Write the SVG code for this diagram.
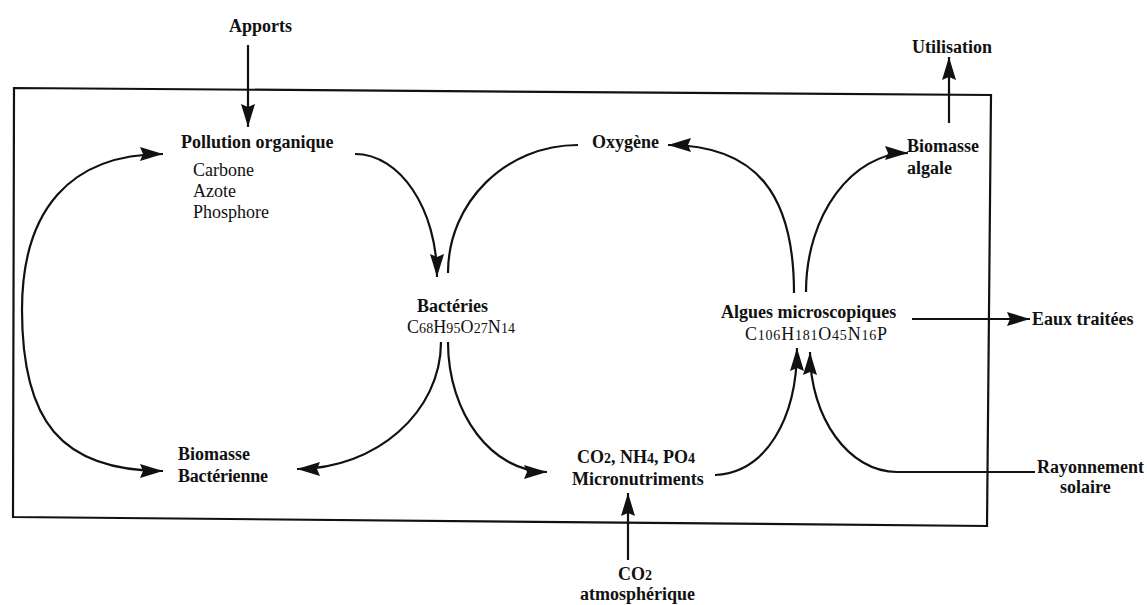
<svg xmlns="http://www.w3.org/2000/svg" width="1147" height="605" viewBox="0 0 1147 605">
<style>
text{font-family:"Liberation Serif","Times New Roman",serif;fill:#111;}
.b{font-weight:bold;font-size:18px;}
.r{font-size:18px;}
.s{font-size:14px;}
.ln{fill:none;stroke:#111;stroke-width:2.2;}
.ar{fill:none;stroke:#111;stroke-width:2.2;marker-end:url(#ah);}
</style>
<defs>
<marker id="ah" markerUnits="userSpaceOnUse" markerWidth="26" markerHeight="16" refX="23" refY="7" orient="auto">
<path d="M0,0 L23,7 L0,14 L3,7 z" fill="#111"/>
</marker>
</defs>
<rect width="1147" height="605" fill="#fff"/>
<polygon id="box" points="14,88 991,95 987,526 13,517" fill="none" stroke="#111" stroke-width="2.2"/>

<g id="connectors">
<path class="ar" d="M248,45 L248,127"/>
<path class="ar" d="M949,123 L949,57"/>
<path class="ar" d="M628,560 L628,493"/>
<path class="ar" d="M912,319 L1030,319"/>
<path class="ar" d="M355,154 C400,154 437,209 437,277"/>
<path class="ln" d="M448,273 C448,202 506,145 578,145"/>
<path class="ar" d="M794,293 C794,195 757,145 668,145"/>
<path class="ar" d="M806,292 C806,215 852,153 908,153"/>
<path class="ar" d="M22,310 C22,210 70,154 163,154"/>
<path class="ar" d="M22,310 C22,420 60,471 163,471"/>
<path class="ar" d="M441,342 C441,412 376,469 297,469"/>
<path class="ar" d="M448,342 C448,414 492,472 547,472"/>
<path class="ar" d="M715,475 C765,473 797,420 797,348"/>
<path class="ar" d="M1035,472 L897,472 C849,472 810,418 810,352"/>
</g>

<g id="apports"><text class="b" x="229" y="32">Apports</text></g>
<g id="pollution">
<text class="b" x="181" y="148">Pollution organique</text>
<text class="r" x="193" y="176">Carbone</text>
<text class="r" x="193" y="197">Azote</text>
<text class="r" x="193" y="218">Phosphore</text>
</g>
<g id="oxygene"><text class="b" x="592" y="148">Oxygène</text></g>
<g id="utilisation"><text class="b" x="912" y="53">Utilisation</text></g>
<g id="biomasse-algale">
<text class="b" x="907" y="152">Biomasse</text>
<text class="b" x="907" y="174">algale</text>
</g>
<g id="bacteries">
<text class="b" x="417" y="312">Bactéries</text>
<text class="r" x="407" y="333" textLength="108">C<tspan class="s">68</tspan>H<tspan class="s">95</tspan>O<tspan class="s">27</tspan>N<tspan class="s">14</tspan></text>
</g>
<g id="algues">
<text class="b" x="721" y="318">Algues microscopiques</text>
<text class="r" x="745" y="340" textLength="142">C<tspan class="s">106</tspan>H<tspan class="s">181</tspan>O<tspan class="s">45</tspan>N<tspan class="s">16</tspan>P</text>
</g>
<g id="eaux"><text class="b" x="1032" y="325">Eaux traitées</text></g>
<g id="biomasse-bact">
<text class="b" x="178" y="460">Biomasse</text>
<text class="b" x="178" y="482" textLength="90">Bactérienne</text>
</g>
<g id="nutriments">
<text class="b" x="577" y="463">CO<tspan class="s">2</tspan>, NH<tspan class="s">4</tspan>, PO<tspan class="s">4</tspan></text>
<text class="b" x="572" y="485">Micronutriments</text>
</g>
<g id="co2-atm">
<text class="b" x="618" y="580">CO<tspan class="s">2</tspan></text>
<text class="b" x="580" y="600">atmosphérique</text>
</g>
<g id="rayonnement">
<text class="b" x="1037" y="473">Rayonnement</text>
<text class="b" x="1060" y="493">solaire</text>
</g>
</svg>
